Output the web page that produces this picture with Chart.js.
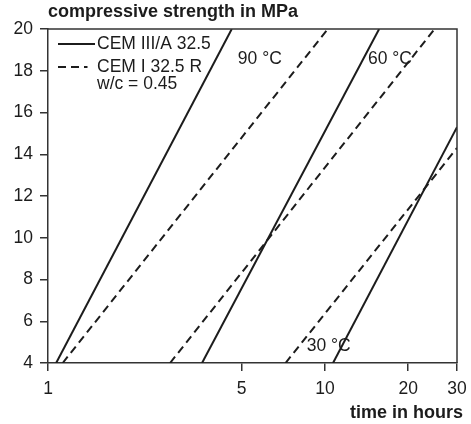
<!DOCTYPE html>
<html>
<head>
<meta charset="utf-8">
<script src="https://cdn.jsdelivr.net/npm/chart.js@4.4.1/dist/chart.umd.min.js"></script>
<style>
  html, body { margin: 0; padding: 0; background: #fff; }
  #strengthChart { display: block; }
</style>
</head>
<body>
<canvas id="strengthChart" width="471" height="424"></canvas>
<script>
// Strength development at 90, 60 and 30 °C (hours on log scale)
var temps = ['90 °C', '60 °C', '30 °C'];

// CEM III/A 32.5: start and end of each line
var cem3Hours = [[1.07, 4.61], [3.60, 15.7], [10.7, 30]];
var cem3Mpa = [[4, 20], [4, 20], [4, 15.3]];

// CEM I 32.5 R
var cem1Hours = [[1.13, 10.25], [2.76, 24.9], [7.21, 30]];
var cem1Mpa = [[4, 20], [4, 20], [4, 14.3]];

var xTicks = [1, 5, 10, 20, 30];
var yTicks = [4, 6, 8, 10, 12, 14, 16, 18, 20];

var ink = '#1c1c1c';
var fontFamily = '"Liberation Sans", Arial, sans-serif';

function toPoints(hours, mpa) {
    return hours.map(function (h, i) { return { x: h, y: mpa[i] }; });
}

var datasets = [];
temps.forEach(function (t, i) {
    datasets.push({
        label: 'CEM III/A 32.5 ' + t,
        data: toPoints(cem3Hours[i], cem3Mpa[i]),
        borderColor: ink,
        borderWidth: 2,
        pointRadius: 0,
        fill: false
    });
    datasets.push({
        label: 'CEM I 32.5 R ' + t,
        data: toPoints(cem1Hours[i], cem1Mpa[i]),
        borderColor: ink,
        borderWidth: 2,
        borderDash: [8, 5],
        pointRadius: 0,
        fill: false
    });
});

// frame, axis titles, legend box and temperature labels
var decorations = {
    id: 'decorations',
    afterDraw: function (chart) {
        var ctx = chart.ctx;
        var area = chart.chartArea;
        var x = chart.scales.x;
        var y = chart.scales.y;
        ctx.save();

        ctx.strokeStyle = '#333';
        ctx.lineWidth = 1.5;
        ctx.beginPath();
        ctx.moveTo(area.left, area.top);
        ctx.lineTo(area.right, area.top);
        ctx.lineTo(area.right, area.bottom);
        ctx.stroke();

        ctx.fillStyle = ink;
        ctx.textBaseline = 'middle';
        ctx.font = 'bold 18px ' + fontFamily;
        ctx.textAlign = 'left';
        ctx.fillText('compressive strength in MPa', 48, 12);
        ctx.textAlign = 'right';
        ctx.fillText('time in hours', 463, 413);

        // legend
        ctx.font = '17.5px ' + fontFamily;
        ctx.textAlign = 'left';
        ctx.strokeStyle = ink;
        ctx.lineWidth = 2;
        ctx.beginPath();
        ctx.moveTo(58, 44);
        ctx.lineTo(95, 44);
        ctx.stroke();
        ctx.fillText('CEM III/A 32.5', 97, 44);

        ctx.setLineDash([8, 5]);
        ctx.beginPath();
        ctx.moveTo(58, 67);
        ctx.lineTo(87.5, 67);
        ctx.stroke();
        ctx.setLineDash([]);
        ctx.fillText('CEM I 32.5 R', 97, 67);
        ctx.fillText('w/c = 0.45', 97, 84);

        // temperature labels
        ctx.fillText(temps[0], x.getPixelForValue(4.85), y.getPixelForValue(18.56));
        ctx.fillText(temps[1], x.getPixelForValue(14.3), y.getPixelForValue(18.56));
        ctx.fillText(temps[2], x.getPixelForValue(8.6), y.getPixelForValue(4.79));

        ctx.restore();
    }
};

new Chart(document.getElementById('strengthChart').getContext('2d'), {
    type: 'line',
    data: { datasets: datasets },
    options: {
        responsive: false,
        animation: false,
        layout: { padding: { top: 29, right: 14, left: 0, bottom: 0 } },
        plugins: {
            legend: { display: false },
            tooltip: { enabled: false }
        },
        scales: {
            x: {
                type: 'logarithmic',
                min: 1,
                max: 30,
                afterBuildTicks: function (scale) {
                    scale.ticks = xTicks.map(function (v) { return { value: v }; });
                },
                afterFit: function (scale) {
                    scale.height = 61;
                    scale.paddingLeft = 0;
                    scale.paddingRight = 0;
                },
                grid: { drawOnChartArea: false, tickLength: 8, color: '#333', lineWidth: 1.5 },
                border: { color: '#333', width: 1.5 },
                ticks: {
                    color: ink,
                    padding: 8,
                    maxRotation: 0,
                    autoSkip: false,
                    font: { family: fontFamily, size: 17.5 },
                    callback: function (v) { return String(v); }
                }
            },
            y: {
                min: 4,
                max: 20,
                afterBuildTicks: function (scale) {
                    scale.ticks = yTicks.map(function (v) { return { value: v }; });
                },
                afterFit: function (scale) {
                    scale.width = 48;
                    scale.paddingTop = 0;
                    scale.paddingBottom = 0;
                },
                grid: { drawOnChartArea: false, tickLength: 8, color: '#333', lineWidth: 1.5 },
                border: { color: '#333', width: 1.5 },
                ticks: {
                    color: ink,
                    padding: 7,
                    font: { family: fontFamily, size: 17.5 }
                }
            }
        }
    },
    plugins: [decorations]
});
</script>
</body>
</html>
